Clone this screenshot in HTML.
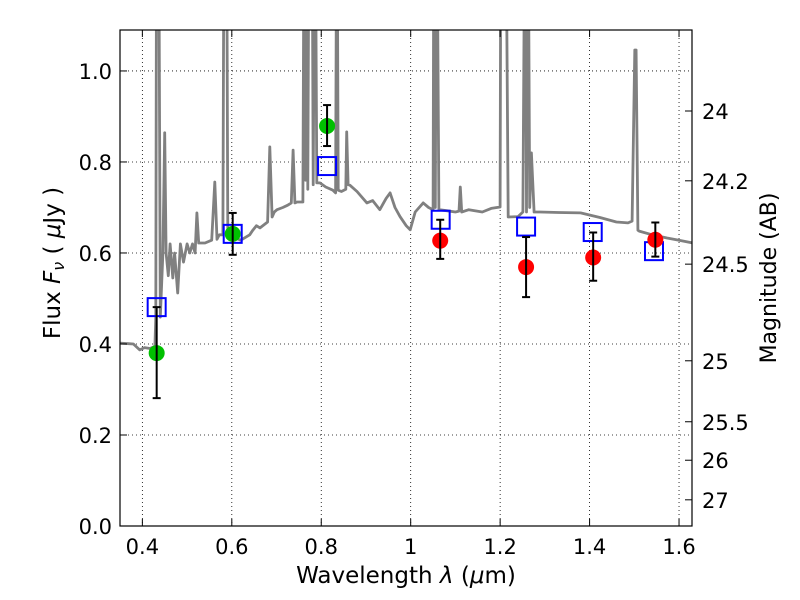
<!DOCTYPE html>
<html><head><meta charset="utf-8"><style>
body{margin:0;background:#fff}
svg{display:block;font-family:"DejaVu Sans","Liberation Sans",sans-serif}
</style></head><body>
<svg id="c" width="800" height="600" viewBox="0 0 800 600"></svg>
<script>
const xTicks=[0.4,0.6,0.8,1.0,1.2,1.4,1.6];
const xTickLabels=["0.4","0.6","0.8","1","1.2","1.4","1.6"];
const yTicks=[0,0.2,0.4,0.6,0.8,1.0];
const yTickLabels=["0.0","0.2","0.4","0.6","0.8","1.0"];
const magTicks=[24,24.2,24.5,25,25.5,26,27];
const magTickLabels=["24","24.2","24.5","25","25.5","26","27"];
const specWl=[0.350,0.380,0.394,0.405,0.417,0.428,0.430,0.432,0.436,0.440,
0.446,0.450,0.453,0.458,0.462,0.468,0.472,0.479,0.485,0.492,
0.500,0.506,0.512,0.518,0.522,0.526,0.540,0.555,0.562,0.567,
0.572,0.580,0.583,0.588,0.591,0.602,0.620,0.640,0.647,0.655,
0.663,0.680,0.685,0.690,0.695,0.701,0.714,0.725,0.733,0.737,
0.741,0.746,0.759,0.762,0.765,0.767,0.770,0.773,0.779,0.782,
0.786,0.790,0.797,0.810,0.826,0.832,0.835,0.838,0.845,0.855,
0.857,0.860,0.864,0.880,0.902,0.915,0.931,0.945,0.954,0.965,
0.976,0.990,0.999,1.010,1.028,1.040,1.050,1.052,1.055,1.058,
1.063,1.080,1.100,1.108,1.111,1.114,1.130,1.160,1.180,1.200,
1.202,1.212,1.218,1.240,1.251,1.256,1.259,1.262,1.266,1.270,
1.276,1.289,1.330,1.380,1.423,1.460,1.486,1.495,1.501,1.504,
1.508,1.511,1.540,1.573,1.600,1.631];
const specFlux=[0.402,0.400,0.387,0.392,0.390,0.395,0.459,1.5,1.5,0.459,
0.600,0.864,0.600,0.550,0.620,0.545,0.600,0.512,0.620,0.580,
0.620,0.600,0.620,0.600,0.688,0.622,0.622,0.628,0.756,0.630,
0.640,0.640,1.5,1.5,0.640,0.635,0.628,0.640,0.650,0.660,
0.655,0.668,0.833,0.679,0.690,0.695,0.700,0.705,0.710,0.826,
0.710,0.712,0.712,1.5,0.760,1.5,0.740,1.5,1.5,0.750,
1.5,0.754,0.754,0.745,0.738,0.732,1.5,0.738,0.735,0.740,
0.866,0.750,0.749,0.735,0.710,0.715,0.695,0.720,0.732,0.700,
0.680,0.660,0.651,0.690,0.710,0.700,0.695,1.5,0.700,1.5,
0.695,0.693,0.690,0.692,0.745,0.690,0.695,0.690,0.698,0.701,
1.5,1.5,0.679,0.680,0.690,1.5,0.690,1.5,0.700,0.820,
0.690,0.690,0.689,0.688,0.678,0.668,0.666,0.670,1.046,1.046,
0.650,0.648,0.640,0.633,0.628,0.622];
const greenWl=[0.432,0.602,0.813];
const greenFlux=[0.380,0.642,0.879];
const greenLo=[0.281,0.596,0.835];
const greenHi=[0.481,0.688,0.925];
const redWl=[1.066,1.258,1.408,1.547];
const redFlux=[0.627,0.569,0.590,0.629];
const redLo=[0.587,0.503,0.539,0.592];
const redHi=[0.673,0.635,0.645,0.667];
const sqWl=[0.432,0.602,0.813,1.067,1.258,1.407,1.544];
const sqFlux=[0.481,0.642,0.791,0.673,0.658,0.646,0.604];

const L=120,R=692,T=30,B=526,XMIN=0.35,XMAX=1.629,YMIN=0,YMAX=1.09;
const X=v=>L+(v-XMIN)/(XMAX-XMIN)*(R-L);
const Y=v=>B-(v-YMIN)/(YMAX-YMIN)*(B-T);
const magToFlux=m=>Math.pow(10,(23.9-m)/2.5);
const svg=document.getElementById('c');
const NS='http://www.w3.org/2000/svg';
function mk(tag,attrs,parent){const e=document.createElementNS(NS,tag);for(const k in attrs)e.setAttribute(k,attrs[k]);(parent||svg).appendChild(e);return e;}

const defs=mk('defs',{});
const cp=mk('clipPath',{id:'clip'},defs);
mk('rect',{x:L,y:T,width:R-L,height:B-T},cp);

const grid=mk('g',{});


xTicks.forEach(t=>{mk('line',{x1:X(t),x2:X(t),y1:T,y2:B,stroke:'#000','stroke-width':0.8,'stroke-dasharray':'1,3'},grid);});
yTicks.forEach(t=>{mk('line',{x1:L,x2:R,y1:Y(t),y2:Y(t),stroke:'#000','stroke-width':0.8,'stroke-dasharray':'1,3'},grid);});

const n=Math.min(specWl.length,specFlux.length);
const pts=specWl.slice(0,n).map((w,i)=>X(w).toFixed(1)+','+Y(specFlux[i]).toFixed(1)).join(' ');
const spec=mk('polyline',{points:pts,fill:'none',stroke:'#808080','stroke-width':2.8,'stroke-linejoin':'round','clip-path':'url(#clip)'});



sqWl.forEach((w,i)=>{
  const s=mk('rect',{x:X(w)-9,y:Y(sqFlux[i])-9,width:18,height:18,fill:'none',stroke:'#0000ff','stroke-width':2});
  
  
});
function pointsWithErr(wl,fl,lo,hi,color,name){
  wl.forEach((w,i)=>{
    const x=X(w);
    const c=mk('circle',{cx:x,cy:Y(fl[i]),r:8,fill:color});
    
    
    const g=mk('g',{stroke:'#000','stroke-width':2});
    
    
    mk('line',{x1:x,x2:x,y1:Y(lo[i]),y2:Y(hi[i])},g);
    mk('line',{x1:x-4,x2:x+4,y1:Y(lo[i]),y2:Y(lo[i])},g);
    mk('line',{x1:x-4,x2:x+4,y1:Y(hi[i]),y2:Y(hi[i])},g);
  });
}
pointsWithErr(greenWl,greenFlux,greenLo,greenHi,'#00c000','green-photometry-point');
pointsWithErr(redWl,redFlux,redLo,redHi,'#ff0000','red-photometry-point');

const fr=mk('rect',{x:L,y:T,width:R-L,height:B-T,fill:'none',stroke:'#000','stroke-width':1.2});



xTicks.forEach((t,i)=>{
  mk('line',{x1:X(t),x2:X(t),y1:B,y2:B-7,stroke:'#000'});
  mk('line',{x1:X(t),x2:X(t),y1:T,y2:T+7,stroke:'#000'});
  const tx=mk('text',{x:X(t),y:B+28,'font-size':21,'text-anchor':'middle'});
  tx.textContent=xTickLabels[i];
  
  
});
yTicks.forEach((t,i)=>{
  mk('line',{x1:L,x2:L+7,y1:Y(t),y2:Y(t),stroke:'#000'});
  const tx=mk('text',{x:L-8,y:Y(t)+8,'font-size':21,'text-anchor':'end'});
  tx.textContent=yTickLabels[i];
  
  
});
magTicks.forEach((m,i)=>{
  const y=Y(magToFlux(m));
  mk('line',{x1:R,x2:R-7,y1:y,y2:y,stroke:'#000'});
  const tx=mk('text',{x:R+10,y:y+8,'font-size':21});
  tx.textContent=magTickLabels[i];
  
  
});

const xt=mk('text',{x:406,y:583,'font-size':23,'text-anchor':'middle'});
xt.innerHTML='Wavelength  <tspan font-style="italic">λ</tspan> (<tspan font-style="italic">μ</tspan>m)';


const yt=mk('text',{x:0,y:0,'font-size':23,'text-anchor':'middle',transform:'translate(60,263) rotate(-90)'});
yt.innerHTML='Flux  <tspan font-style="italic">F</tspan><tspan font-style="italic" font-size="16" dy="4">ν</tspan><tspan dy="-4">  ( </tspan><tspan font-style="italic">μ</tspan>Jy )';


const rt=mk('text',{x:0,y:0,'font-size':22,'text-anchor':'middle',transform:'translate(776,278) rotate(-90)'});
rt.textContent='Magnitude (AB)';


</script>
</body></html>
